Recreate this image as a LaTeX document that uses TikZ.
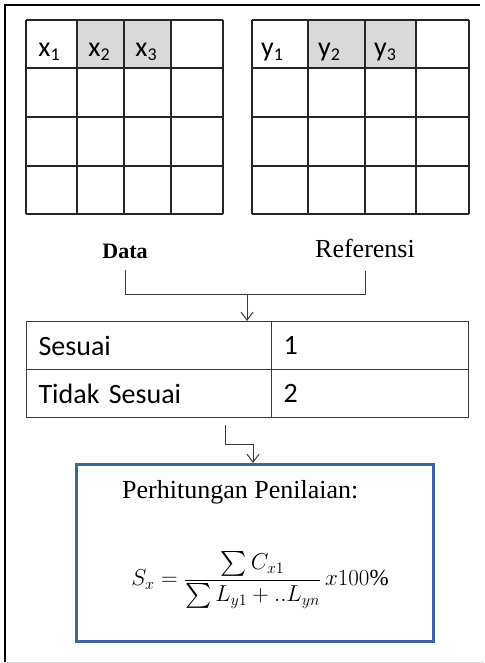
\RequirePackage{fix-cm}
\documentclass[tikz,border=0pt]{standalone}
\usepackage{amsmath}
\usepackage{fontspec}
\setmainfont{Liberation Serif}
\newfontfamily\calib{Carlito}
\usetikzlibrary{arrows.meta}

\definecolor{cellgray}{HTML}{D9D9D9}
\definecolor{boxblue}{HTML}{41669A}
\definecolor{linegray}{HTML}{3A3A3A}

\newcommand{\gridlab}[2]{#1\raisebox{-4pt}{\fontsize{18}{18}\selectfont #2}}

\tikzset{
  gridline/.style={line width=1.2pt, draw=black!85},
  shadecell/.style={fill=cellgray},
  labtext/.style={font=\calib\fontsize{28}{30}\selectfont, anchor=base, inner sep=0pt},
  tabcell/.style={draw=linegray, line width=1.2pt, anchor=north west, minimum height=48pt,
    inner ysep=0pt, inner xsep=12pt, align=left, font=\calib\fontsize{28}{30}\selectfont},
  conn/.style={draw=linegray, line width=1pt},
  arrowed/.style={-{Straight Barb[length=8pt,width=12pt]}}
}

\begin{document}
\begin{tikzpicture}[x=1pt,y=-1pt]
		\useasboundingbox (0,0) rectangle (484,663);
		%%%%% frame %%%%%
		\draw[line width=2pt] (480,5) -- (5,5) -- (5,662);
		\draw[black!15, line width=1pt] (5,662) -- (484,662);
		
		%%%%% data grid %%%%%
		\fill[shadecell] (77,20) rectangle (171,68);
		\foreach \x in {26,77,124,171,223}
			\draw[gridline] (\x,20) -- (\x,214);
		\foreach \y in {20,68,117,166,214}
			\draw[gridline] (26,\y) -- (223,\y);
		\node[labtext] (x1) at (49,57) {\gridlab{x}{1}};
		\node[labtext] (x2) at (99,57) {\gridlab{x}{2}};
		\node[labtext] (x3) at (146,57) {\gridlab{x}{3}};
		
		%%%%% referensi grid %%%%%
		\fill[shadecell] (308,20) rectangle (416,68);
		\foreach \x in {252,308,365,416,469}
			\draw[gridline] (\x,20) -- (\x,214);
		\foreach \y in {20,68,117,166,214}
			\draw[gridline] (252,\y) -- (469,\y);
		\node[labtext] (y1) at (272,57) {\gridlab{y}{1}};
		\node[labtext] (y2) at (329,57) {\gridlab{y}{2}};
		\node[labtext] (y3) at (385,57) {\gridlab{y}{3}};
		
		%%%%% labels %%%%%
		\node[font=\bfseries\fontsize{22}{24}\selectfont] (data) at (125,251) {Data};
		\node[font=\fontsize{26}{28}\selectfont] (ref) at (365,248) {Referensi};
		
		%%%%% table %%%%%
		\node[tabcell, text width=221pt] (sesuai) at (26,321) {Sesuai};
		\node[tabcell, text width=173pt] (satu) at (271,321) {1};
		\node[tabcell, text width=221pt] (tidak) at (26,369) {Tidak Sesuai};
		\node[tabcell, text width=173pt] (dua) at (271,369) {2};
		
		\coordinate (dataend) at (125,270);
		\coordinate (refend) at (365,271);
		\coordinate (join) at (247,294);
		\draw[conn] (dataend) |- (join);
		\draw[conn] (refend) |- (join);
		\draw[conn, arrowed] (join) -- (join |- sesuai.north);
		
		%%%%% penilaian %%%%%
		\node[draw=boxblue, line width=2.5pt, anchor=north west, minimum width=357pt,
			minimum height=177pt, inner sep=0pt] (hitung) at (75,463) {};
		\node[anchor=west, inner sep=0pt, font=\fontsize{26}{30}\selectfont] (judul) at (122,492) {Perhitungan Penilaian:};
		\node[font=\fontsize{23}{26}\selectfont] (rumus) at (260,580)
			{$\displaystyle S_x=\frac{\sum C_{x1}}{\sum L_{y1}+..L_{yn}}\,x100\%$};
		
		\coordinate (start) at (225,425);
		\coordinate (bend) at (253,444);
		\draw[conn, arrowed] (start) |- (bend) -- (bend |- hitung.north);
	\end{tikzpicture}
\end{document}
